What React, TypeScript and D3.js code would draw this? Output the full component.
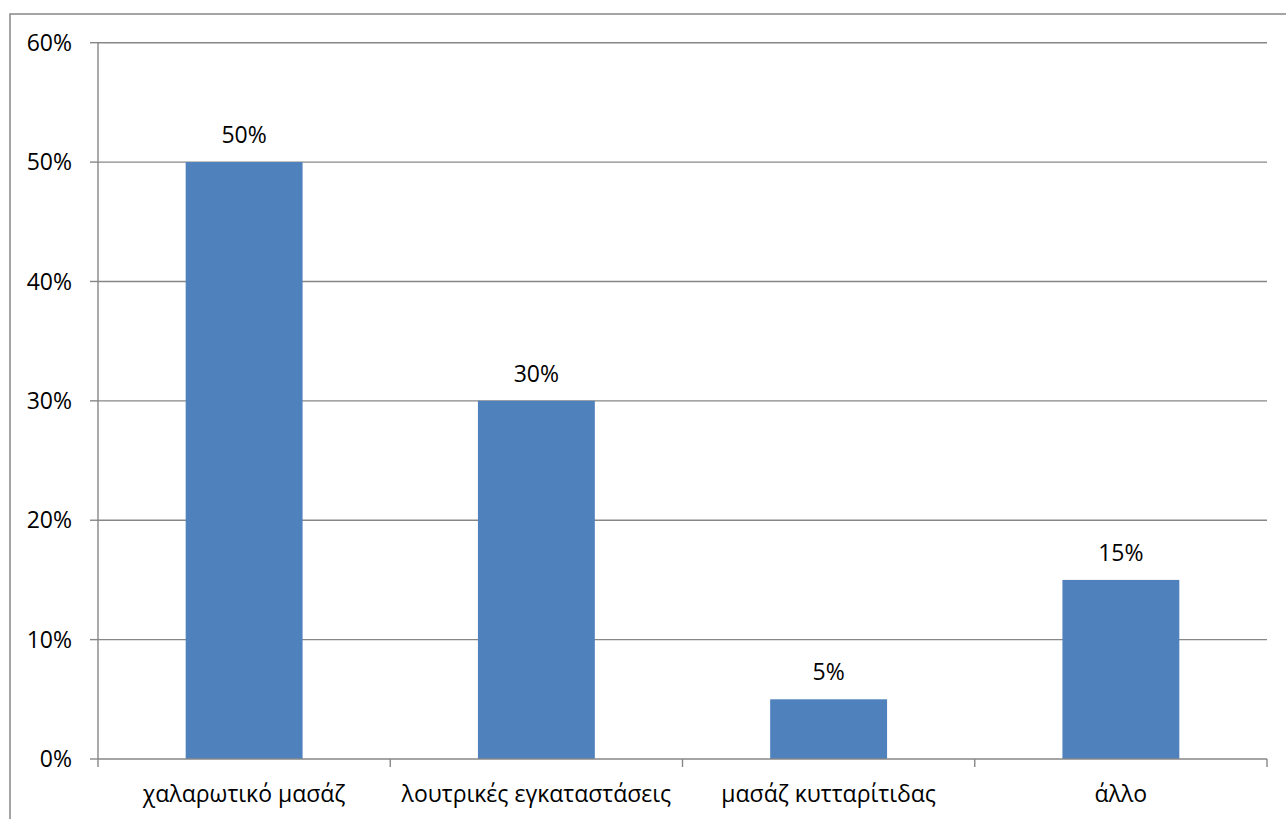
import React from "react";
import * as d3 from "d3";

const categories = ["χαλαρωτικό μασάζ", "λουτρικές εγκαταστάσεις", "μασάζ κυτταρίτιδας", "άλλο"];
const values = [0.5, 0.3, 0.05, 0.15];
const yTicks = [0, 0.1, 0.2, 0.3, 0.4, 0.5, 0.6];

const W = 1286;
const H = 819;
const left = 98;
const right = 1267;
const top = 42.7;
const bottom = 759;
const FONT = "'Open Sans', 'Noto Sans', sans-serif";
const GRID = "#878787";
const BAR = "#4F81BD";
const FS = 23;

export default function App() {
  const x = d3.scaleBand<string>().domain(categories).range([left, right]).paddingInner(0.6).paddingOuter(0.3);
  const xb = d3.scaleBand<string>().domain(categories).range([left, right]).padding(0);
  const y = d3.scaleLinear().domain([0, 0.6]).range([bottom, top]);
  const fmt = d3.format(".0%");
  const bounds = [...categories.map((c) => xb(c) as number), right];

  return (
    <svg width={W} height={H} style={{ position: "absolute", left: 0, top: 0, background: "#fff" }}>
      <rect x={10} y={14} width={W + 20} height={H + 20} fill="#fff" stroke={GRID} strokeWidth={1.5} />
      {yTicks.map((t) => (
        <g key={t}>
          {t > 0 && <line x1={left} x2={right} y1={y(t)} y2={y(t)} stroke={GRID} strokeWidth={1.4} />}
          <line x1={90} x2={left} y1={y(t)} y2={y(t)} stroke={GRID} strokeWidth={1.4} />
          <text x={72} y={y(t)} dy="0.35em" textAnchor="end" fontFamily={FONT} fontSize={FS} fill="#000">
            {fmt(t)}
          </text>
        </g>
      ))}
      {categories.map((c, i) => (
        <g key={c}>
          <rect x={x(c)} y={y(values[i])} width={x.bandwidth()} height={bottom - y(values[i])} fill={BAR} />
          <text
            x={(x(c) as number) + x.bandwidth() / 2}
            y={y(values[i]) - 19}
            textAnchor="middle"
            fontFamily={FONT}
            fontSize={FS}
            fill="#000"
          >
            {fmt(values[i])}
          </text>
          <text
            x={(xb(c) as number) + xb.bandwidth() / 2}
            y={802}
            textAnchor="middle"
            fontFamily={FONT}
            fontSize={FS}
            fill="#000"
          >
            {c}
          </text>
        </g>
      ))}
      <line x1={left} x2={left} y1={top} y2={bottom} stroke={GRID} strokeWidth={1.4} />
      <line x1={left} x2={right} y1={bottom} y2={bottom} stroke={GRID} strokeWidth={1.4} />
      {bounds.map((b, i) => (
        <line key={i} x1={b} x2={b} y1={bottom} y2={bottom + 8} stroke={GRID} strokeWidth={1.4} />
      ))}
    </svg>
  );
}
